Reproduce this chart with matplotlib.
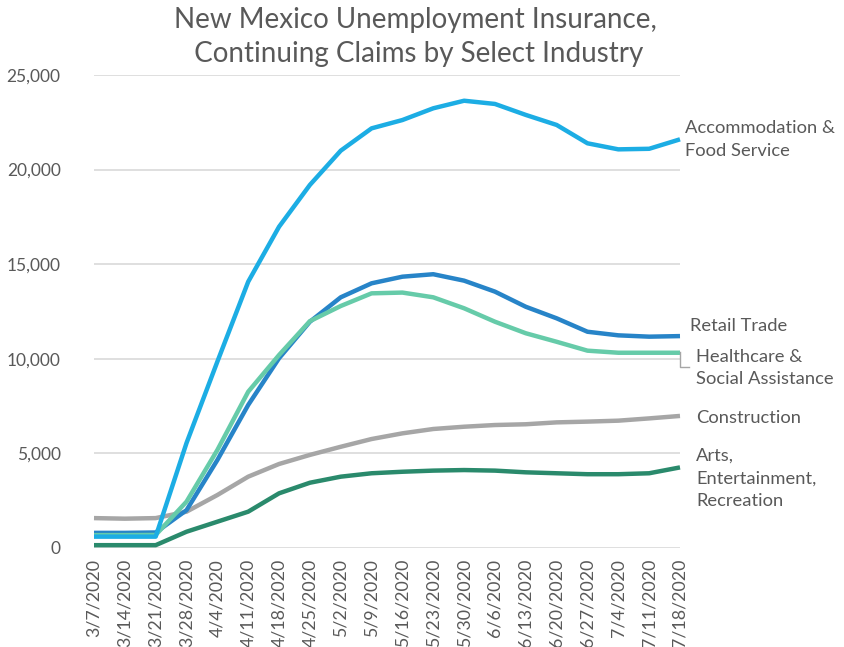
import matplotlib
matplotlib.use("Agg")
import matplotlib.pyplot as plt

dates = ["3/7/2020", "3/14/2020", "3/21/2020", "3/28/2020", "4/4/2020", "4/11/2020",
         "4/18/2020", "4/25/2020", "5/2/2020", "5/9/2020", "5/16/2020", "5/23/2020",
         "5/30/2020", "6/6/2020", "6/13/2020", "6/20/2020", "6/27/2020", "7/4/2020",
         "7/11/2020", "7/18/2020"]

accommodation = [600, 600, 600, 5550, 9850, 14075, 16980, 19190, 21000, 22180, 22620,
                 23240, 23640, 23470, 22890, 22360, 21390, 21070, 21100, 21600]
retail = [800, 800, 820, 2000, 4650, 7560, 10030, 11960, 13250, 13990, 14340, 14470,
          14130, 13550, 12750, 12140, 11430, 11240, 11170, 11200]
healthcare = [680, 680, 690, 2450, 5180, 8260, 10200, 11990, 12790, 13460, 13500, 13250,
              12670, 11960, 11350, 10900, 10430, 10320, 10320, 10320]
construction = [1580, 1550, 1580, 1920, 2800, 3770, 4440, 4920, 5350, 5760, 6060, 6290,
                6410, 6500, 6540, 6640, 6680, 6730, 6850, 6980]
arts = [150, 150, 150, 860, 1390, 1920, 2890, 3450, 3770, 3950, 4030, 4090, 4120, 4090,
        4000, 3950, 3900, 3900, 3950, 4260]

series_labels = ["Arts,\nEntertainment,\nRecreation", "Construction",
                 "Retail Trade", "Healthcare &\nSocial Assistance",
                 "Accommodation &\nFood Service"]
series_values = [arts, construction, retail, healthcare, accommodation]
colors = ["#2A8A6C", "#A6A6A6", "#2784C8", "#66CBA9", "#1CADE4"]

yticks = [0, 5000, 10000, 15000, 20000, 25000]

plt.rcParams['font.family'] = ['Lato', 'DejaVu Sans']
txt = "#595959"

fig = plt.figure(figsize=(8.45, 6.47), dpi=100)
ax = fig.add_axes([94/845, 1-548/647, (680-94)/845, (548-75)/647])

x = list(range(len(dates)))
for vals, c in zip(series_values, colors):
    ax.plot(x, vals, color=c, lw=3.2, solid_capstyle='butt', solid_joinstyle='round',
            clip_on=False)

ax.set_xlim(0, len(dates) - 1)
ax.set_ylim(0, 25000)
ax.set_yticks(yticks)
ax.set_yticklabels([f"{v:,}" for v in yticks])
ax.set_xticks(x)
ax.set_xticklabels(dates, rotation=90)
ax.tick_params(axis='x', length=0, colors=txt, labelsize=12.8, pad=8)
ax.tick_params(axis='y', length=0, colors=txt, labelsize=12.5, pad=24)
ax.grid(axis='y', color='#D9D9D9', lw=1.2)
ax.set_axisbelow(True)
for s in ax.spines.values():
    s.set_visible(False)

def lab(text, xpix, ypix):
    fig.text(xpix/845, 1-ypix/647, text, color=txt, fontsize=13.2,
             ha='left', va='top', linespacing=1.5)

lab(series_labels[4], 685, 120)
lab(series_labels[2], 690, 318)
lab(series_labels[3], 696, 349)
lab(series_labels[1], 696, 410)
lab(series_labels[0], 696, 448)

# leader line for Healthcare label
fig.add_artist(plt.Line2D([680/845, 680/845, 689/845], [1-352/647, 1-367/647, 1-367/647],
                          color='#A6A6A6', lw=1))

fig.text(415/845, 1-7/647, "New Mexico Unemployment Insurance,\n Continuing Claims by Select Industry",
         ha='center', va='top', fontsize=20, color=txt, linespacing=1.38)

fig.savefig("out.png", dpi=100, facecolor='white')
